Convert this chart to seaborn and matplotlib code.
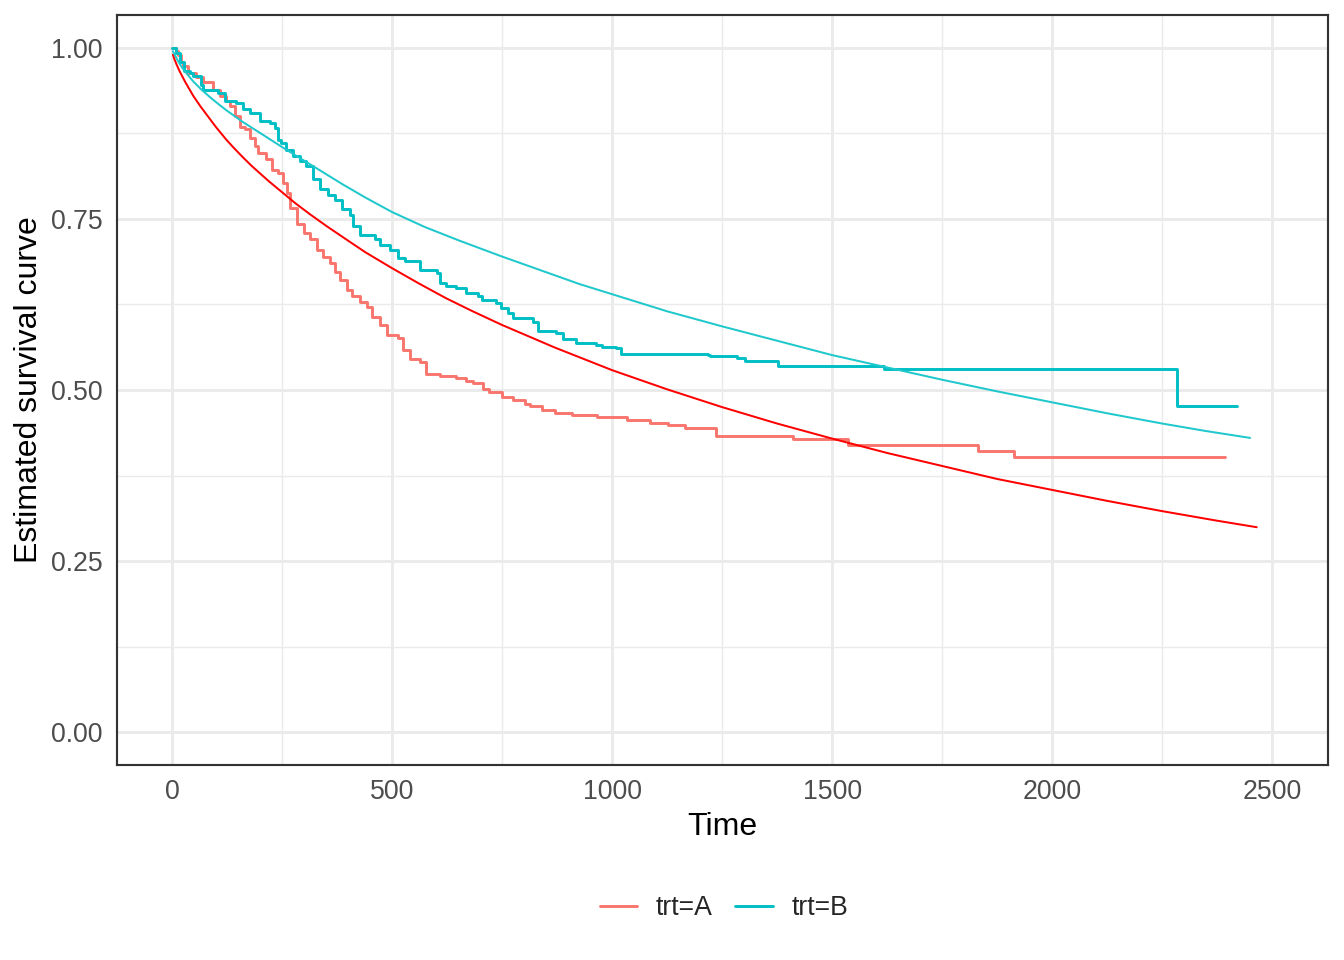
import numpy as np
import pandas as pd
import matplotlib
matplotlib.use("Agg")
import matplotlib.pyplot as plt
import seaborn as sns

# Kaplan-Meier estimates (time where the step starts, survival)
km_a_time = [0, 10, 14, 20, 25, 36, 55, 70, 93, 108, 123, 131, 142, 154, 165, 176, 188, 195,
             214, 226, 241, 252, 261, 269, 284, 299, 314, 329, 344, 359, 371, 382, 397, 408,
             427, 442, 454, 472, 488, 514, 525, 540, 563, 578, 608, 646, 669, 684, 707, 720,
             750, 775, 802, 813, 840, 870, 909, 965, 1034, 1086, 1127, 1166, 1237, 1411,
             1536, 1832, 1914, 2394]
km_a_surv = [1.0, 0.995, 0.99, 0.98, 0.973, 0.963, 0.958, 0.95, 0.939, 0.929, 0.922, 0.915,
             0.90, 0.885, 0.881, 0.868, 0.856, 0.847, 0.837, 0.822, 0.817, 0.803, 0.788, 0.766,
             0.742, 0.729, 0.72, 0.705, 0.695, 0.686, 0.673, 0.661, 0.646, 0.637, 0.629, 0.622,
             0.607, 0.595, 0.58, 0.576, 0.559, 0.546, 0.541, 0.524, 0.52, 0.517, 0.513, 0.51,
             0.502, 0.497, 0.49, 0.485, 0.48, 0.476, 0.471, 0.467, 0.463, 0.46, 0.456, 0.452,
             0.449, 0.444, 0.433, 0.429, 0.419, 0.411, 0.402, 0.402]

km_b_time = [0, 10, 18, 27, 40, 48, 65, 70, 105, 120, 146, 161, 176, 199, 222, 233, 241, 248,
             260, 275, 290, 305, 320, 337, 355, 371, 386, 405, 412, 427, 461, 472, 495, 514,
             529, 563, 601, 608, 623, 646, 669, 695, 705, 737, 748, 764, 775, 820, 832, 873,
             889, 919, 964, 976, 1010, 1021, 1218, 1222, 1283, 1302, 1376, 1619, 2283, 2420]
km_b_surv = [1.0, 0.993, 0.98, 0.966, 0.963, 0.959, 0.945, 0.939, 0.934, 0.922, 0.92, 0.91,
             0.905, 0.893, 0.89, 0.883, 0.866, 0.861, 0.851, 0.842, 0.835, 0.827, 0.808, 0.793,
             0.785, 0.778, 0.764, 0.756, 0.739, 0.727, 0.72, 0.712, 0.705, 0.693, 0.688, 0.676,
             0.671, 0.656, 0.652, 0.649, 0.642, 0.637, 0.631, 0.627, 0.62, 0.613, 0.605, 0.6,
             0.586, 0.583, 0.574, 0.569, 0.566, 0.563, 0.561, 0.553, 0.551, 0.549, 0.547, 0.542,
             0.535, 0.530, 0.477, 0.477]

# fitted parametric curves
fit_a_time = [2, 5, 10, 17, 30, 48, 65, 86, 100, 123, 140, 161, 180, 199, 220, 250, 280, 313,
              350, 389, 440, 500, 560, 623, 680, 750, 870, 1000, 1125, 1250, 1375, 1500, 1625,
              1750, 1875, 2000, 2125, 2250, 2375, 2465]
fit_a_surv = [0.990, 0.984, 0.976, 0.966, 0.950, 0.930, 0.914, 0.896, 0.884, 0.866, 0.854,
              0.840, 0.828, 0.817, 0.805, 0.789, 0.773, 0.757, 0.740, 0.723, 0.701, 0.678,
              0.656, 0.634, 0.616, 0.595, 0.562, 0.529, 0.501, 0.475, 0.451, 0.429, 0.408,
              0.389, 0.370, 0.354, 0.338, 0.323, 0.309, 0.2995]

fit_b_time = [2, 5, 10, 15, 25, 35, 48, 65, 86, 105, 123, 160, 199, 250, 298, 389, 440, 500,
              575, 654, 750, 925, 1000, 1125, 1250, 1375, 1500, 1625, 1750, 1875, 2000, 2125,
              2250, 2350, 2450]
fit_b_surv = [0.995, 0.991, 0.985, 0.979, 0.969, 0.961, 0.951, 0.940, 0.928, 0.918, 0.909,
              0.892, 0.876, 0.855, 0.836, 0.800, 0.781, 0.760, 0.738, 0.718, 0.695, 0.655,
              0.640, 0.615, 0.593, 0.572, 0.551, 0.533, 0.515, 0.498, 0.482, 0.466, 0.451,
              0.440, 0.430]

groups = ["trt=A", "trt=B"]
km_colors = ["#F8766D", "#00BFC4"]
fit_colors = ["#FF0000", "#1FC8CC"]

km = pd.concat([
    pd.DataFrame({"time": km_a_time, "surv": km_a_surv, "strata": groups[0]}),
    pd.DataFrame({"time": km_b_time, "surv": km_b_surv, "strata": groups[1]}),
])
fit = pd.concat([
    pd.DataFrame({"time": fit_a_time, "surv": fit_a_surv, "strata": groups[0]}),
    pd.DataFrame({"time": fit_b_time, "surv": fit_b_surv, "strata": groups[1]}),
])

sns.set_style("white")
plt.rcParams["font.family"] = ["Liberation Sans", "DejaVu Sans"]

fig = plt.figure(figsize=(7, 5), dpi=192)
ax = fig.add_axes([0.0871, 0.2031, 0.9881 - 0.0871, 0.9844 - 0.2031])

sns.lineplot(data=km, x="time", y="surv", hue="strata", palette=km_colors,
             estimator=None, sort=False, drawstyle="steps-post", linewidth=1.1,
             legend=False, ax=ax)
sns.lineplot(data=fit, x="time", y="surv", hue="strata", palette=fit_colors,
             estimator=None, sort=False, linewidth=0.75, legend=False, ax=ax)

ax.set_xlim(-125, 2627)
ax.set_ylim(-0.048, 1.048)
ax.set_xticks([0, 500, 1000, 1500, 2000, 2500])
ax.set_yticks([0, 0.25, 0.5, 0.75, 1.0])
ax.set_yticklabels(["0.00", "0.25", "0.50", "0.75", "1.00"])
ax.set_xticks([250, 750, 1250, 1750, 2250], minor=True)
ax.set_yticks([0.125, 0.375, 0.625, 0.875], minor=True)
ax.grid(which="major", color="#EBEBEB", linewidth=1.1)
ax.grid(which="minor", color="#EBEBEB", linewidth=0.55)
ax.set_axisbelow(True)
ax.tick_params(which="major", length=3.4, width=1.0, color="#333333",
               labelsize=10, labelcolor="#4D4D4D", pad=2)
ax.tick_params(which="minor", length=0)
for s in ax.spines.values():
    s.set_color("#333333")
    s.set_linewidth(0.8)

ax.set_xlabel("Time", fontsize=12, color="black", labelpad=2.5)
ax.set_ylabel("Estimated survival curve", fontsize=12, color="black", labelpad=2.5)

handles = [plt.Line2D([], [], color=c, linewidth=1.1) for c in km_colors]
fig.legend(handles, groups, loc="center", bbox_to_anchor=(724 / 1344, 0.054), ncol=2,
           frameon=False, fontsize=10, handlelength=1.4, columnspacing=0.85,
           handletextpad=0.7)

fig.savefig("out.png", dpi=192)
